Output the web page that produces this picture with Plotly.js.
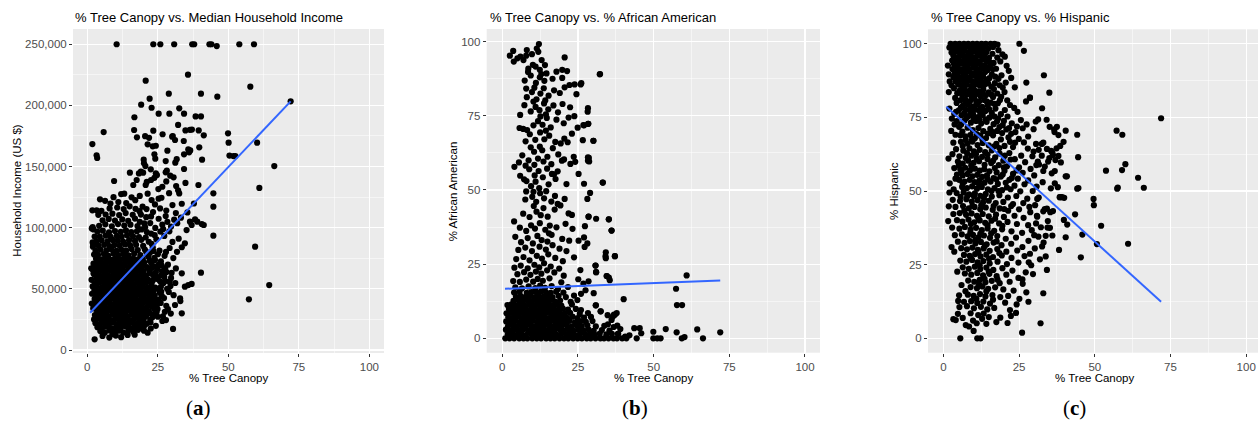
<!DOCTYPE html>
<html>
<head>
<meta charset="utf-8">
<script src="https://cdn.plot.ly/plotly-3.0.1.min.js"></script>
<style>html,body{margin:0;padding:0;background:#fff;}#chart{width:1258px;height:425px;}</style>
</head>
<body>
<div id="chart"></div>
<script>
// ---- Panel (a): % tree canopy vs median household income (US $) ----
const incomePoints = [
[10.4,250000],[23.4,250000],[25.9,250000],[30.8,250000],[37.2,250000],[37.9,250000],[43.3,250000],[44.0,250000],[45.9,248500],[53.9,250000],[59.1,250000],
[35.7,225100],[20.7,220200],[57.8,215300],[40.3,209600],[28.9,209600],[46.1,207100],[22.1,205500],[72.1,203300],[19.1,200600],[22.8,198100],[32.6,197600],[25.3,193200],[29.1,193200],[34.3,193200],[38.4,191000],[40.3,191000],[16.7,190300],[32.2,184000],[5.8,178200],[16.6,179900],[23.4,179300],[34.8,179500],[36.4,180000],[37.1,180200],[39.5,179500],[41.3,175500],[30.1,174400],[26.7,176400],[49.9,177200],[50.1,169500],[60.2,169500],[1.8,168400],[3.3,159200],[3.5,157000],[66.3,150400],[50.4,159000],[51.8,158600],[52.5,158600],[61.0,132500],[44.7,128100],[44.7,117200],[44.7,93500],[59.5,84500],[64.5,53100],[57.3,41400],[40.3,63200],[40.6,103000],[41.3,102200],[30.4,17200],[2.6,8700],
[17.6,173900],[20.5,174800],[21.9,173500],[21.4,168200],[23.2,166500],[24.3,167000],[34.2,170900],[35.8,164000],[36.5,163200],[36.1,161600],[39.7,165700],[28.4,163000],[23.8,160000],[24.1,156400],[20.0,155600],[40.7,155600],[27.8,154500],[31.2,153200],[31.7,156000],[34.3,160000],[31.1,171700],[30.3,175000],
[9.5,138200],[15.1,145000],[16.3,134900],[17.5,139000],[4.5,123200],[1.8,114200],[18.3,144400],[19.0,145800],[20.1,152700],[20.6,150400],[19.8,145000],[21.1,137400],[22.6,139000],[22.5,147700],[24.3,144500],[24.7,143000],[25.2,131600],[25.3,123700],[27.8,145300],[28.2,146600],[29.4,142500],[34.3,148000],[30.6,141200],[31.5,134100],[32.2,130600],[32.6,128000],[39.4,134900],[34.8,136600],[26.6,133500],[28.0,137800],[23.8,140800],[20.7,134900],
[19.6,117200],[22.8,122600],[21.4,127800],[24.0,119000],[26.3,124500],[28.0,114000],[23.3,112800],[30.2,118500],[31.4,112000],[25.8,115800],[29.0,128200],[33.5,119600],[35.5,112500],[37.8,119800],
[36.4,104900],[37.0,102200],[39.0,104900],[38.2,106800],
[1.6,99400],[1.9,100500],[2.2,98600],[1.9,88000],[2.1,86200],[1.5,57400],[1.8,66000],[2.2,62500],[1.7,46000],[1.4,66800],[2.0,84500],[3.9,110500],[1.6,38000],
[5.4,11500],[7.8,10200],[10.1,11800],[12.0,10500],[14.3,12300],[16.8,12500],[8.9,12900],
[4.6,15500],[6.2,14200],[7.9,16000],[9.5,14800],[11.2,15800],[12.8,14300],[14.6,16200],[16.3,15000],[18.0,16500],
[3.6,18700],[5.3,18000],[6.9,19000],[8.6,17800],[10.3,18600],[11.9,18100],[13.6,19200],[15.2,18000],[16.9,18900],[18.6,18200],[20.1,19400],
[2.9,21900],[4.5,21200],[6.1,22000],[7.8,21500],[9.4,22300],[11.1,21300],[12.7,21900],[14.4,21100],[16.0,22200],[17.7,21600],[19.3,22100],[21.0,21400],
[3.4,25300],[5.1,24600],[6.8,25200],[8.4,24500],[10.1,25500],[11.8,24700],[13.4,25100],[15.1,24400],[16.7,25600],[18.4,24800],[20.0,25200],[22.3,24600],
[2.7,28600],[4.3,27900],[6.0,28500],[7.6,27800],[9.3,28800],[10.9,28000],[12.6,28400],[14.3,27700],[15.9,28900],[17.6,28100],[19.2,28500],[20.9,27800],[23.5,28900],
[3.5,31200],[5.2,31900],[6.8,31300],[8.5,31800],[10.2,31100],[11.8,31700],[13.5,31400],[15.1,32000],[16.8,31200],[18.4,31900],[20.1,31300],[21.8,31800],[24.6,31000],
[2.8,35100],[4.4,34500],[6.1,35200],[7.7,34400],[9.4,35000],[11.0,34600],[12.7,35300],[14.3,34700],[16.0,35100],[17.7,34400],[19.3,35000],[21.0,34600],[22.9,35400],
[3.3,38400],[5.0,37800],[6.6,38500],[8.3,37700],[10.0,38300],[11.6,37900],[13.3,38600],[14.9,38000],[16.6,38300],[18.2,37800],[19.9,38600],[21.6,38100],[24.0,37600],
[2.6,41800],[4.2,41100],[5.9,41600],[7.5,41000],[9.2,41900],[10.8,41200],[12.5,41700],[14.2,41000],[15.8,41500],[17.5,41100],[19.1,41800],[20.8,41300],[22.6,41900],[25.3,41200],
[3.4,44400],[5.1,45100],[6.7,44500],[8.4,45000],[10.0,44300],[11.7,45200],[13.3,44600],[15.0,45000],[16.6,44400],[18.3,45300],[20.0,44600],[21.7,45100],[23.9,44500],
[2.5,48300],[4.1,47600],[5.8,48400],[7.4,47700],[9.1,48200],[10.7,47800],[12.4,48500],[14.1,47700],[15.7,48300],[17.4,47600],[19.0,48400],[20.7,47900],[22.4,48600],[26.2,47800],
[3.2,51600],[4.9,50900],[6.5,51500],[8.2,51000],[9.9,51700],[11.5,51100],[13.2,51400],[14.8,50800],[16.5,51600],[18.1,51000],[19.8,51700],[21.5,51200],[24.1,51000],
[2.7,54300],[4.3,55000],[6.0,54400],[7.6,54900],[9.3,54200],[10.9,55100],[12.6,54500],[14.3,54900],[15.9,54300],[17.6,55000],[19.2,54600],[20.9,55200],[22.8,54300],[27.0,54800],
[3.3,58200],[5.0,57500],[6.6,58300],[8.3,57600],[9.9,58100],[11.6,57700],[13.2,58400],[14.9,57600],[16.5,58200],[18.2,57500],[19.8,58300],[21.5,57800],[25.0,58000],
[2.6,61500],[4.2,60900],[5.9,61600],[7.5,60800],[9.2,61400],[10.9,61000],[12.5,61700],[14.2,60900],[15.8,61500],[17.5,60800],[19.1,61600],[20.8,61000],[23.3,61300],
[3.4,64200],[5.1,64900],[6.7,64300],[8.4,64800],[10.0,64100],[11.7,64900],[13.3,64400],[15.0,64800],[16.6,64200],[18.3,65000],[19.9,64500],[22.0,64900],[26.5,64300],
[2.9,68100],[4.5,67500],[6.2,68200],[7.8,67600],[9.5,68000],[11.1,67400],[12.8,68300],[14.5,67700],[16.1,68100],[17.8,67500],[19.5,68200],[21.2,67800],[24.4,68400],
[3.6,71400],[5.3,70800],[6.9,71500],[8.6,70900],[10.2,71300],[11.9,70700],[13.5,71600],[15.2,71000],[16.8,71400],[18.5,70800],[20.2,71500],[22.8,70900],
[3.1,74700],[4.8,74100],[6.4,74800],[8.1,74000],[9.7,74600],[11.4,74200],[13.0,74900],[14.7,74300],[16.3,74700],[18.0,74100],[19.7,74500],
[3.8,77800],[5.9,78500],[7.4,77200],[9.3,78900],[11.0,77600],[12.9,78300],[14.6,77400],[16.6,78800],[18.8,77500],[21.3,78200],
[2.9,81200],[4.7,82000],[6.8,81500],[8.5,82300],[10.3,81000],[12.1,81900],[13.8,81300],[15.7,82500],[17.9,81700],[20.4,82100],
[4.0,85300],[6.0,86000],[7.9,85000],[9.6,85800],[11.5,85200],[13.4,86300],[15.2,85500],[17.3,86000],[19.8,85100],
[3.2,89000],[5.1,89600],[7.2,88800],[9.0,90000],[10.8,89300],[12.7,88700],[14.8,89800],[16.9,89200],[19.1,90100],
[4.4,92800],[6.5,93600],[8.3,92500],[10.5,93300],[12.2,92600],[14.1,93900],[16.2,93000],[18.3,92400],
[3.6,96900],[5.5,97600],[7.7,96300],[9.8,97300],[11.9,96600],[13.7,97800],[15.6,96500],[17.6,97100],
[4.2,101500],[6.4,102800],[8.7,101200],[10.9,103000],[13.1,101800],[15.3,102500],[17.8,101300],[20.2,103500],
[5.4,106000],[7.6,107200],[9.8,105800],[12.4,106800],[14.5,105600],[16.9,107500],
[6.5,110800],[8.9,111500],[11.3,110300],[13.6,112000],[16.1,110500],[18.5,113500],
[3.3,114200],[7.9,115800],[10.6,116500],[12.9,115200],[15.0,117500],
[8.2,119800],[11.0,121000],[13.8,120200],[6.3,122000],[17.0,122500],
[12.0,127500],[13.1,127800],[9.3,125000],[15.7,124800],[18.6,126000],
[21.8,88500],[23.2,84000],[24.5,90500],[22.6,95200],[25.9,96800],[27.3,93300],[24.1,99800],[26.6,102500],[28.4,104800],[29.7,101000],[25.3,107300],[27.8,109500],[30.8,106600],[31.9,103700],[33.2,108200],[29.1,97000],
[22.2,79500],[23.8,75300],[25.6,81200],[27.4,77000],[29.2,83400],[26.1,72400],[28.6,69800],[30.5,75200],[31.8,80300],[33.5,84000],[34.6,87200],[35.2,98100],[32.4,91000],[30.2,88400],
[24.8,66500],[26.3,61200],[28.1,63800],[29.7,58900],[31.4,66700],[33.5,62700],[27.6,56500],[29.5,52300],[31.2,54800],[34.6,51800],[35.8,53100],[37.0,54000],
[23.6,44000],[25.7,46800],[27.2,42500],[28.9,47500],[30.6,44800],[32.9,42300],[33.0,40000],[26.0,38500],[28.0,36200],[31.1,36800],[24.9,33500],[27.5,31200],[29.6,29800],[33.5,30000],[26.6,23700],[27.9,24500],[25.0,27200],[24.3,19800],[22.5,17600],[21.4,14200],[20.1,15800],
[22.4,22500],[23.1,26700],[22.0,30300],[23.8,33300],[24.6,36000],[22.7,39700],[24.4,40700],[22.3,43000],[21.9,46800],[23.4,47500],[25.2,49600],[22.6,51500],[23.3,57000],[24.6,60000],[22.3,62800],[21.9,66200],[23.0,67200],[25.4,70000],[22.1,73000],[24.0,73600],[21.7,76300],[20.9,80200],[23.4,81000],[22.8,86800],[20.7,92000],[21.1,96500],[19.2,98600],[20.5,100400],[22.3,103800],[18.6,104800],[20.9,108600],[22.6,109200],[19.0,110700],[21.0,115200],[17.1,115400],[5.0,113800],[2.6,92800],[2.4,78100],[2.2,70600],[1.9,52000],[2.1,34000],[2.4,25000],
[26.8,27600],[28.6,33400],[26.4,44200],[28.3,50000],[26.1,51700],[29.2,55700],[25.8,56200],[27.3,59800],[24.3,63500],[27.6,66800],[29.9,63100],[26.4,69000],[25.0,78300],[27.9,80200],[23.9,93900],[26.9,98900]
];
const incomeFitCanopy = [1.0, 72.1];
const incomeFit = [30500, 203300];

// ---- Panel (b): % tree canopy vs % African American ----
const africanAmericanPoints = [
[1.0,0],[2.4,0],[3.9,0],[5.6,0],[7.0,0],[8.3,0],[9.9,0],[11.4,0],[12.8,0],[14.5,0],[15.9,0],[17.3,0],[18.9,0],[20.4,0],[21.8,0],[23.4,0],[24.9,0],[26.3,0],[27.9,0],[29.2,0],[30.8,0],[32.4,0],[33.6,0],[35.1,0],[36.7,0],[37.9,0],[39.6,0],[41.0,0],
[1.8,1.3],[3.3,1.6],[4.8,1.2],[6.3,1.5],[7.7,1.1],[9.2,1.7],[10.7,1.3],[12.2,1.5],[13.6,1.2],[15.1,1.6],[16.6,1.4],[18.1,1.2],[19.6,1.7],[21.1,1.3],[22.6,1.5],[24.2,1.1],[25.7,1.6],[27.4,1.3],[29.0,1.4],[30.6,1.2],[32.2,1.6],[34.4,1.3],[36.2,1.5],[38.3,1.5],
[1.2,2.9],[2.6,2.6],[4.1,3.0],[5.5,2.7],[7.0,3.1],[8.5,2.6],[10.0,2.9],[11.5,2.7],[12.9,3.0],[14.4,2.6],[15.9,2.9],[17.4,2.8],[18.9,3.1],[20.3,2.7],[21.9,2.9],[23.5,2.6],[25.1,3.0],[26.8,2.7],[28.5,2.9],[30.2,2.5],[32.9,2.8],[35.4,2.6],
[1.9,4.1],[3.4,4.4],[4.8,4.0],[6.3,4.3],[7.8,4.1],[9.3,4.5],[10.7,4.0],[12.2,4.3],[13.7,4.1],[15.2,4.4],[16.7,4.0],[18.2,4.3],[19.6,4.2],[21.2,4.5],[22.9,4.0],[24.6,4.3],[26.2,4.1],[28.1,4.4],[30.9,4.0],[33.7,4.2],[36.8,3.8],[38.0,4.3],
[1.3,5.7],[2.7,5.5],[4.2,5.8],[5.6,5.4],[7.1,5.7],[8.6,5.6],[10.1,5.9],[11.5,5.5],[13.0,5.7],[14.5,5.4],[16.0,5.8],[17.5,5.5],[19.0,5.7],[20.5,5.6],[22.2,5.9],[24.0,5.4],[25.7,5.7],[27.6,5.5],[29.8,5.8],
[2.0,7.1],[3.5,6.9],[4.9,7.2],[6.4,6.8],[7.9,7.1],[9.3,7.0],[10.8,7.3],[12.3,6.9],[13.8,7.1],[15.3,6.8],[16.8,7.2],[18.2,7.0],[19.8,7.1],[21.4,6.9],[23.2,7.3],[24.9,6.8],[27.0,7.0],[29.3,7.2],[34.8,7.8],[36.9,8.0],[37.8,8.5],
[1.4,8.4],[2.8,8.6],[4.3,8.3],[5.7,8.5],[7.2,8.2],[8.7,8.6],[10.2,8.4],[11.6,8.5],[13.1,8.3],[14.6,8.6],[16.1,8.4],[17.6,8.2],[19.1,8.5],[20.7,8.3],[22.4,8.6],[25.6,8.2],[28.3,8.5],
[2.2,9.9],[3.6,9.7],[5.0,10.0],[6.5,9.8],[8.0,9.6],[9.5,10.0],[10.9,9.8],[12.4,9.7],[13.9,10.0],[15.4,9.8],[16.9,9.9],[18.4,9.6],[20.0,10.0],[21.7,9.7],[24.3,9.9],[26.0,9.5],[32.5,9.1],
[1.7,11.2],[3.0,11.4],[4.4,11.1],[6.0,11.3],[7.4,11.0],[8.9,11.4],[10.4,11.2],[11.9,11.3],[13.3,11.0],[14.8,11.4],[16.4,11.1],[18.0,11.3],[19.5,11.0],[23.0,11.4],[30.9,11.1],
[3.7,12.6],[5.3,12.8],[6.8,12.5],[8.3,12.7],[9.7,12.4],[11.2,12.8],[12.7,12.6],[14.2,12.5],[15.7,12.8],[17.4,12.4],[19.1,12.7],[22.6,12.3],[24.8,12.9],[40.1,13.2],
[4.5,14.0],[6.1,14.2],[7.6,13.9],[9.0,14.1],[10.5,13.8],[12.0,14.2],[13.5,14.0],[15.0,14.1],[16.6,13.8],[18.6,14.3],[21.0,13.9],[23.7,14.4],
[3.9,15.4],[5.7,15.7],[8.1,15.3],[9.7,15.6],[11.3,15.4],[12.8,15.8],[14.4,15.5],[16.0,15.3],[17.8,15.7],[20.2,15.4],[26.0,15.0],
[4.3,17.2],[6.5,16.8],[8.7,17.5],[10.9,16.9],[12.5,17.8],[14.1,17.0],[16.3,17.6],[18.4,16.6],[21.7,17.3],[26.8,18.4],[27.5,16.2],
[3.6,19.3],[5.8,19.0],[7.9,19.8],[10.2,19.1],[11.7,20.0],[13.4,19.4],[15.6,20.2],[19.5,18.9],[28.5,19.2],[25.1,19.9],[30.2,15.2],
[5.0,21.6],[7.2,22.3],[9.3,21.4],[11.1,22.5],[12.9,21.8],[14.8,22.9],[17.2,22.2],[20.3,21.1],[31.0,22.3],[34.5,21.0],[35.2,20.5],[35.5,19.6],
[4.0,23.8],[6.1,24.5],[8.4,23.6],[10.6,24.8],[12.2,23.9],[13.8,25.3],[16.0,24.2],[18.8,23.5],[25.8,23.0],[30.8,24.5],
[4.6,26.7],[7.0,27.4],[9.0,26.3],[11.4,27.8],[13.1,26.9],[15.2,28.3],[17.5,27.1],[20.0,26.0],[23.7,27.3],[34.2,29.0],[34.1,27.7],[37.2,27.7],
[5.3,29.8],[7.6,30.6],[9.8,29.4],[12.3,30.9],[14.4,29.9],[16.6,31.4],[18.9,30.2],[21.2,29.4],[27.2,30.8],[28.1,32.0],[27.0,34.0],
[6.2,32.4],[8.4,33.8],[10.1,32.0],[11.6,34.5],[13.0,33.1],[14.9,32.6],[16.3,34.9],[19.8,33.5],[22.1,32.9],[4.3,34.2],[25.2,32.9],[15.4,35.4],
[5.8,37.3],[7.9,36.2],[9.5,38.1],[10.8,37.0],[12.4,38.8],[14.2,36.6],[15.7,38.0],[17.9,37.4],[20.9,38.6],[23.2,36.9],[27.3,37.8],[36.1,36.3],[3.9,39.4],[31.0,40.3],
[6.9,42.0],[9.0,40.9],[11.3,42.7],[12.7,41.5],[13.6,43.9],[15.0,41.0],[17.3,43.4],[19.2,44.8],[21.9,42.1],[23.0,41.6],[35.2,40.1],[28.5,41.0],[10.4,44.6],
[7.6,46.8],[9.9,47.7],[11.2,46.0],[12.5,48.9],[13.8,47.2],[16.2,46.1],[17.4,48.0],[18.3,45.3],[20.6,47.0],[28.1,47.0],[29.0,49.0],[10.3,49.4],[14.5,49.6],[7.9,49.5],
[5.9,54.8],[8.0,53.0],[9.5,51.3],[11.0,52.8],[12.2,50.6],[13.4,54.3],[15.3,51.9],[17.6,53.7],[21.2,52.0],[27.0,52.1],[33.2,52.5],[10.7,54.9],[16.4,55.4],[7.2,53.6],
[4.0,57.8],[5.5,59.3],[8.9,57.0],[10.6,58.5],[12.0,56.4],[13.6,59.6],[14.8,57.2],[16.2,58.7],[18.3,56.3],[19.7,59.9],[22.5,58.8],[25.2,55.4],[28.7,59.6],[7.7,58.2],[17.1,55.3],
[6.6,61.7],[8.7,60.0],[10.5,62.9],[11.8,60.6],[13.2,63.4],[14.9,61.2],[16.7,64.1],[18.5,62.0],[20.4,60.3],[23.6,61.2],[24.1,59.5],[28.6,60.8],[12.4,64.6],[9.4,64.4],
[7.7,66.4],[9.1,68.8],[10.9,66.9],[12.5,69.4],[13.9,67.1],[15.5,68.3],[17.5,66.2],[19.3,65.7],[20.5,67.3],[21.6,66.1],[26.6,66.8],[30.1,66.6],[8.2,70.2],[14.4,70.0],[23.0,69.0],
[5.7,70.9],[6.9,70.6],[10.3,71.8],[11.8,73.2],[13.3,72.0],[14.7,74.3],[16.0,71.1],[17.9,73.7],[20.3,72.5],[21.9,74.4],[24.9,71.0],[27.0,71.8],[28.4,72.3],[5.9,75.3],[12.6,74.8],
[7.3,78.6],[9.4,76.5],[11.0,78.0],[12.3,76.9],[13.8,79.2],[15.2,77.2],[16.9,78.5],[18.4,76.2],[19.9,79.0],[22.4,77.9],[23.8,74.9],[28.3,77.6],[10.3,79.8],[14.4,75.5],
[8.1,81.3],[9.8,83.0],[11.3,80.6],[12.6,82.5],[13.7,84.3],[15.3,81.8],[17.1,83.6],[19.0,82.7],[20.6,84.6],[24.5,82.3],[7.9,84.2],[10.6,84.5],[14.2,80.2],
[7.4,86.9],[9.4,88.6],[11.1,86.1],[12.4,88.0],[13.9,86.8],[14.6,89.3],[16.6,87.5],[19.8,87.8],[22.2,85.4],[23.9,85.6],[25.9,85.6],[32.2,89.0],[8.5,89.8],[12.9,89.1],[21.4,90.1],
[3.8,93.3],[7.0,93.8],[8.6,90.9],[10.1,92.2],[12.4,90.5],[13.0,93.8],[14.1,92.1],[17.9,89.9],[19.8,90.5],[20.6,94.7],[11.0,91.6],
[2.5,95.3],[3.6,96.9],[7.9,95.3],[8.1,97.2],[9.8,95.8],[11.4,97.7],[11.9,96.6],[12.1,99.2],[6.0,95.0],[5.0,94.4],
[43.6,3.4],[44.4,0],[45.4,3.4],[45.9,1.7],[49.9,2.2],[49.9,0],[51.2,0],[52.3,0],[54.0,3.1],[57.6,2.0],[57.4,16.7],[57.7,11.2],[59.4,11.2],[59.3,0],[60.2,0.4],[60.9,21.2],[64.4,3.0],[66.3,0],[72.0,2.0],
[32.3,89.1],[33.2,52.5],[35.2,40.1],[36.1,36.3],[37.2,27.7],[34.2,27.0],[30.8,24.5],[31.0,22.3],[34.5,21.0],[30.9,11.1],[32.5,9.1],[37.2,7.9],[30.1,66.6],[28.5,41.0],[28.3,61.0],[28.3,59.9],[28.2,76.4],[28.4,72.3],[26.8,71.9],[26.1,86.0],
[34.9,4.7],[36.5,7.3],[36.1,6.2],[39.0,3.1],[40.6,0.6],[38.2,1.5],[42.0,1.0]
];
const africanAmericanFitCanopy = [0.9, 72.0];
const africanAmericanFit = [16.7, 19.5];

// ---- Panel (c): % tree canopy vs % Hispanic ----
const hispanicPoints = [
[2.4,100],[3.9,100],[5.3,100],[6.8,100],[8.2,100],[9.7,100],[11.1,100],[12.6,100],[14.0,100],[15.6,100],[16.9,100],[25.1,100],
[2.0,98.7],[3.2,98.4],[4.6,98.8],[6.1,98.5],[7.5,98.9],[9.0,98.4],[10.4,98.7],[11.9,98.5],[13.3,98.8],[14.8,98.3],[26.6,97.6],
[2.7,97.0],[4.0,97.4],[5.4,97.1],[6.9,97.5],[8.3,97.0],[9.8,97.3],[11.2,96.9],[12.7,97.4],[14.2,97.1],[16.2,96.6],[19.5,96.4],
[3.3,95.9],[4.7,95.5],[6.2,96.0],[7.6,95.6],[9.1,95.9],[10.5,95.4],[12.0,96.0],[13.5,95.6],[15.1,95.2],[20.3,95.6],
[2.9,94.3],[4.1,94.6],[5.5,94.2],[7.0,94.7],[8.4,94.3],[9.9,94.5],[11.3,94.1],[12.8,94.6],[14.4,94.0],[16.6,93.5],[18.8,94.0],
[3.5,93.1],[4.8,92.8],[6.3,93.2],[7.7,92.9],[9.2,93.3],[10.6,92.8],[12.1,93.1],[13.6,92.7],[15.3,92.2],[20.9,92.5],
[3.0,91.4],[4.3,91.8],[5.7,91.3],[7.1,91.7],[8.5,91.5],[10.0,91.9],[11.4,91.3],[12.9,91.6],[14.6,91.1],[17.4,91.5],[21.6,90.8],
[3.8,90.0],[5.1,90.4],[6.5,90.1],[7.9,90.5],[9.3,90.0],[10.8,90.3],[12.2,89.9],[13.8,90.4],[16.0,89.6],[19.2,89.3],
[3.3,88.7],[4.6,89.0],[6.0,88.6],[7.4,88.9],[8.8,88.5],[10.2,89.1],[11.7,88.6],[13.1,88.9],[15.2,88.3],[18.2,88.1],[22.4,88.4],
[4.1,87.3],[5.5,87.6],[6.9,87.2],[8.3,87.7],[9.7,87.1],[11.1,87.5],[12.5,87.2],[14.2,87.8],[17.0,86.6],[20.6,86.8],[27.4,86.8],
[2.7,85.9],[4.9,86.2],[6.3,85.7],[7.8,86.1],[9.2,85.6],[10.6,86.3],[12.0,85.8],[13.5,86.0],[15.9,85.4],[19.6,85.1],[23.6,85.2],
[5.5,84.3],[7.0,84.6],[8.6,84.0],[10.1,84.5],[11.6,83.8],[13.2,84.4],[15.0,83.5],[17.8,83.1],[1.8,83.6],
[6.2,82.6],[7.7,82.8],[9.3,82.2],[10.9,82.9],[12.4,82.1],[14.1,82.6],[16.4,81.9],[19.1,82.0],[21.1,80.8],[28.6,81.7],
[5.7,80.9],[7.2,81.1],[8.8,80.5],[10.3,81.3],[11.8,80.4],[13.5,80.9],[15.6,80.0],[18.0,79.8],[22.0,79.2],[27.3,80.4],
[6.5,79.1],[8.0,79.4],[9.6,78.7],[11.1,79.3],[12.8,78.6],[14.6,79.0],[17.2,78.0],[20.3,77.5],[23.4,78.2],[32.6,78.1],
[5.1,77.4],[7.3,77.6],[8.9,76.9],[10.5,77.6],[12.1,76.8],[13.9,77.2],[16.0,76.5],[19.0,76.1],[24.5,76.9],[2.0,78.0],
[6.0,75.7],[8.2,75.4],[9.8,76.0],[11.4,75.1],[13.0,75.8],[15.2,74.9],[18.1,74.6],[21.2,75.3],[25.6,74.1],[31.3,74.3],[34.1,74.2],
[4.4,73.7],[7.0,73.9],[9.1,73.2],[10.8,73.8],[12.5,72.9],[14.3,73.5],[16.6,72.7],[19.6,72.4],[22.6,73.0],[27.5,72.6],[29.8,71.0],[35.1,71.8],[30.5,73.6],
[5.2,71.8],[6.3,70.2],[8.0,71.5],[9.7,70.7],[11.6,71.4],[13.2,70.3],[15.5,71.1],[17.8,70.4],[20.8,70.9],[23.8,70.0],[26.2,71.3],[28.0,68.5],[36.7,70.0],[38.0,69.0],
[4.0,69.1],[7.2,68.6],[8.9,69.0],[10.4,67.9],[12.2,68.8],[14.1,68.0],[16.4,68.9],[19.0,67.5],[21.5,68.2],[24.9,67.7],[26.6,66.5],[30.6,66.0],[33.0,66.4],
[3.3,66.4],[5.8,66.7],[8.0,66.1],[9.6,66.8],[11.3,65.6],[13.0,66.3],[15.0,65.5],[17.5,66.0],[20.2,65.3],[23.0,64.9],[27.9,64.4],[34.2,64.3],[36.0,63.0],
[4.2,64.2],[6.6,63.7],[8.6,64.5],[10.1,63.5],[12.0,64.0],[13.8,63.2],[16.0,63.8],[18.6,62.7],[21.8,62.9],[25.7,62.0],[29.4,61.8],[32.5,62.0],[35.0,61.2],[37.0,60.5],
[3.0,62.5],[5.3,61.8],[7.4,61.2],[9.2,62.0],[11.0,61.0],[12.8,61.6],[14.6,60.8],[17.1,61.4],[19.8,60.3],[23.6,60.8],[27.0,59.8],[31.2,60.0],[38.8,59.7],
[1.7,61.0],[4.8,60.0],[6.4,59.3],[8.2,60.3],[10.0,59.6],[11.8,60.1],[13.6,58.9],[15.8,59.5],[18.3,58.8],[21.0,58.4],[25.0,58.0],[28.8,57.5],[33.5,58.3],
[3.6,57.8],[5.6,57.4],[7.2,57.9],[8.8,57.0],[10.4,57.6],[12.0,56.9],[13.5,57.4],[15.2,56.7],[17.6,56.3],[20.2,56.9],[23.0,55.8],[26.2,56.2],[30.0,55.3],[36.8,56.8],[40.8,55.0],
[4.5,55.6],[6.4,55.3],[8.0,55.8],[9.6,55.0],[11.2,55.5],[12.8,54.8],[14.4,55.3],[16.6,54.4],[19.0,54.9],[21.8,53.8],[24.6,54.2],[28.0,53.6],[32.8,53.0],
[5.2,53.8],[7.0,53.2],[8.7,53.8],[10.3,53.0],[11.9,53.5],[13.6,52.8],[15.6,53.2],[18.0,52.4],[20.6,52.8],[23.5,51.8],[26.8,52.3],[30.8,51.5],[35.5,50.9],
[2.1,52.6],[3.4,50.6],[6.2,51.4],[7.8,51.0],[9.5,51.6],[11.1,50.8],[12.7,51.4],[14.7,50.6],[16.9,51.0],[19.4,50.3],[22.2,50.6],[25.4,49.9],[29.5,50.0],
[2.0,49.5],[4.4,49.3],[6.7,49.6],[8.5,48.9],[10.4,49.2],[12.2,48.4],[14.0,49.0],[16.0,48.1],[18.5,48.6],[21.3,47.8],[24.1,48.3],[27.7,47.4],[31.5,47.8],[38.6,47.9],[39.9,47.7],
[3.1,47.0],[5.5,46.6],[7.6,47.2],[9.4,46.4],[11.3,46.9],[13.1,46.1],[15.0,46.7],[17.3,45.9],[19.8,46.3],[23.0,45.6],[26.4,45.9],[30.3,45.2],[34.2,44.0],
[1.8,44.8],[4.0,44.6],[6.5,44.9],[8.4,44.1],[10.3,44.6],[12.2,43.8],[14.0,44.4],[16.3,43.6],[18.6,44.1],[21.4,43.3],[25.0,43.8],[28.7,42.8],[33.0,43.1],[35.3,42.8],
[3.3,42.2],[5.4,42.5],[7.5,41.9],[9.3,42.4],[11.1,41.6],[13.0,42.2],[15.0,41.4],[17.4,42.0],[20.0,41.2],[23.5,41.6],[26.5,40.9],[31.0,41.3],[34.5,39.8],
[1.6,39.8],[4.5,40.1],[6.3,39.6],[8.3,40.3],[10.2,39.4],[12.0,40.0],[13.8,39.2],[15.9,39.9],[18.4,39.0],[21.2,39.5],[24.3,38.8],[28.0,38.4],[32.2,37.7],[35.2,37.5],
[2.9,37.6],[5.3,37.2],[7.1,37.8],[9.0,36.9],[10.8,37.5],[12.7,36.7],[14.6,37.3],[16.8,36.5],[19.4,37.0],[22.5,36.3],[26.0,35.8],[30.0,35.0],[33.8,34.8],
[3.8,35.0],[6.1,35.3],[8.0,34.6],[9.8,35.1],[11.6,34.3],[13.4,34.9],[15.4,34.1],[17.8,34.7],[20.6,33.8],[24.0,34.2],[28.1,33.1],[31.4,34.5],
[4.8,32.8],[7.0,32.4],[8.8,33.0],[10.6,32.2],[12.4,32.7],[14.3,31.9],[16.6,32.5],[19.2,31.6],[22.4,32.1],[26.1,31.0],[2.7,31.0],[33.1,32.5],
[5.9,30.6],[7.8,30.2],[9.6,30.8],[11.4,30.0],[13.3,30.5],[15.3,29.7],[17.8,30.3],[20.8,29.4],[24.4,29.8],[28.6,28.7],[3.6,29.4],
[6.8,28.3],[8.7,28.0],[10.5,28.6],[12.3,27.8],[14.2,28.4],[16.4,27.6],[19.3,28.1],[22.5,27.3],[26.8,27.9],[31.9,26.8],
[5.6,26.4],[7.6,26.0],[9.5,26.6],[11.3,25.8],[13.2,26.2],[15.3,25.4],[17.9,26.0],[21.0,25.2],[24.8,25.7],[29.0,24.8],
[6.4,24.1],[8.4,23.6],[10.4,24.3],[12.2,23.5],[14.2,24.0],[16.5,23.2],[19.5,23.8],[22.8,23.0],[27.2,22.4],[4.6,22.6],
[7.1,22.0],[9.2,21.6],[11.2,22.2],[13.1,21.4],[15.2,21.9],[17.6,21.1],[20.8,21.6],[24.8,20.5],
[8.2,19.6],[10.2,19.2],[12.0,19.8],[13.9,19.0],[16.0,19.5],[18.6,18.7],[21.9,19.2],[6.0,18.1],[26.2,18.5],
[9.0,17.4],[11.1,17.0],[12.9,17.6],[14.8,16.8],[17.1,17.3],[19.8,16.6],[23.2,16.2],[7.3,16.0],[27.4,15.6],
[5.2,14.6],[8.1,14.8],[10.0,14.4],[12.1,15.0],[13.9,14.2],[16.2,14.7],[18.8,14.0],[21.4,14.4],[25.1,13.4],
[4.9,12.7],[6.8,12.4],[9.2,12.6],[11.2,12.0],[13.2,12.5],[15.4,11.8],[20.4,12.1],[24.2,11.5],
[5.3,10.6],[7.8,10.9],[10.1,10.2],[12.4,10.7],[14.5,9.8],[16.8,10.3],[22.0,9.6],
[4.8,8.3],[9.0,8.5],[11.5,7.9],[13.3,8.4],[15.0,7.2],[18.8,7.0],[22.3,7.6],[24.0,8.6],[12.8,6.6],
[3.3,6.5],[4.1,6.2],[6.4,6.9],[9.8,6.0],[11.0,5.1],[14.2,4.9],[17.5,5.5],[21.2,5.2],[7.4,4.5],[10.0,2.5],[5.6,0],[11.2,0],[12.3,0],[8.5,4.0],
[35.0,83.4],[33.2,89.3],[28.6,81.7],[37.4,64.5],[38.6,65.3],[38.0,61.9],[35.6,63.6],[36.2,62.2],[34.6,60.0],[36.6,70.9],[37.5,71.8],[32.5,66.0],[31.5,64.0],[29.8,63.4],[30.7,58.8],[33.0,56.8],[31.6,59.0],[35.8,56.0],[36.8,52.6],[37.8,51.3],[31.0,47.3],[28.4,44.6],[33.5,43.9],[36.2,43.2],[34.4,37.6],[36.0,34.9],[32.6,31.2],[29.2,36.7],[30.6,39.0],[30.9,41.6],[33.8,27.8],[30.2,30.5],[28.2,25.8],[26.1,20.0],[29.6,21.8],
[71.9,74.7],[57.2,70.5],[59.1,69.1],[60.1,59.1],[59.0,57.1],[53.7,56.9],[64.3,54.5],[66.2,51.1],[57.4,50.8],[57.6,51.2],[49.6,47.3],[49.7,45.2],[52.1,38.2],[50.7,32.0],[61.0,32.1],[45.9,35.2],[45.4,27.5],[43.5,42.1],[44.2,69.1],[44.5,61.5],[44.2,50.8],[44.6,51.0],[40.4,70.5],[39.7,66.7],[40.4,55.0],[39.8,40.2],[40.9,38.6],[40.4,34.3],[38.2,30.0],[39.2,47.9],[38.4,47.9],[34.2,23.2],[33.0,15.3],[32.1,5.1],[26.0,1.9],[28.1,12.4],
[3.5,84.9],[4.6,83.2],[3.9,81.6],[4.4,79.9],[3.6,76.2],[2.8,74.6],[3.7,72.6],[2.6,70.4],[5.9,72.6],[7.6,74.8],[10.0,74.5],[11.9,74.2],[13.9,74.3],[16.9,75.3],[17.7,73.6],[18.5,71.7],[16.4,70.0],[14.7,69.5],[12.9,67.5],[11.0,69.3],[9.4,67.3],[7.4,67.3],[5.6,68.9],[6.4,65.3],[7.8,62.9],[10.8,62.6],[14.6,62.4],[16.8,65.2],[18.5,64.6],[19.4,69.7],[20.3,62.0],[22.2,60.7],[22.0,66.7],[20.0,58.0],[17.0,57.8],[16.4,60.2],[9.2,58.7],[5.1,58.7],[6.0,56.7],[4.0,54.2],[6.4,52.6],[11.8,52.2],[14.6,54.0],[17.5,54.0],[18.2,50.0],[21.0,51.2],[19.6,55.6],[22.6,54.4],[24.2,57.0],[15.9,50.0],[10.1,48.2],[7.9,48.2],[5.7,48.0],[13.4,47.6],[16.6,44.9],[12.5,45.1],[9.6,45.0],[6.9,43.3],[11.6,40.7],[9.1,38.8],[14.6,38.4],[17.1,40.6],[20.1,43.9],[22.4,44.9],[19.5,38.2],[15.8,35.6],[12.2,35.5],[8.9,35.8],[10.6,33.4],[13.7,31.4],[17.6,32.9],[18.5,28.9],[15.1,27.0],[11.6,29.2],[9.1,27.2],[12.0,24.8],[15.0,22.6],[13.6,20.2],[11.8,18.2],[14.2,15.9],[17.9,19.9],[16.4,13.1],[10.9,13.4],
[6.8,83.4],[9.4,83.5],[12.8,83.3],[15.9,82.7],[14.3,80.4],[10.9,79.9],[7.3,79.9],[5.8,78.3],[9.0,78.0],[12.3,77.9],[15.1,77.8],[16.8,79.6],[18.7,80.9],[20.2,83.6],[18.6,85.9],[16.7,84.6],[14.8,86.5],[17.1,88.8],[16.3,91.4],[15.3,93.7],[17.8,95.3],[18.2,97.8],[16.4,98.9],[13.4,99.6],[17.9,99.7],[1.5,92.6],[1.8,89.6],[2.1,87.2],[4.2,76.9],[6.9,76.4],[20.0,73.8],[21.7,71.4],[22.4,69.4],[23.7,66.4],[24.3,71.9]
];
const hispanicFitCanopy = [1.0, 71.9];
const hispanicFit = [78.6, 12.4];

// ---- text ----
const panelTitles = ['% Tree Canopy vs. Median Household Income', '% Tree Canopy vs. % African American', '% Tree Canopy vs. % Hispanic'];
const yTitles = ['Household Income (US $)', '% African American', '% Hispanic'];
const xTitle = '% Tree Canopy';
const captions = ['(<b>a</b>)', '(<b>b</b>)', '(<b>c</b>)'];

const W = 1258, H = 425;
const px = v => v / W, py = v => 1 - v / H;

function scatter(points, xa, ya) {
  return {type: 'scatter', mode: 'markers', x: points.map(p => p[0]), y: points.map(p => p[1]),
    xaxis: xa, yaxis: ya, marker: {color: '#000000', size: 6.2, line: {width: 0}}, hoverinfo: 'skip'};
}
function fit(xs, ys, xa, ya) {
  return {type: 'scatter', mode: 'lines', x: xs, y: ys, xaxis: xa, yaxis: ya,
    line: {color: '#3366FF', width: 2}, hoverinfo: 'skip'};
}

const data = [
  scatter(incomePoints, 'x', 'y'), fit(incomeFitCanopy, incomeFit, 'x', 'y'),
  scatter(africanAmericanPoints, 'x2', 'y2'), fit(africanAmericanFitCanopy, africanAmericanFit, 'x2', 'y2'),
  scatter(hispanicPoints, 'x3', 'y3'), fit(hispanicFitCanopy, hispanicFit, 'x3', 'y3')
];

const tickFont = {family: 'Liberation Sans, Arial, sans-serif', size: 11.5, color: '#4D4D4D'};
function axis(extra) {
  return Object.assign({
    showgrid: true, gridcolor: '#FFFFFF', gridwidth: 1.1, zeroline: false, showline: false,
    ticks: 'outside', ticklen: 3, tickwidth: 1, tickcolor: '#333333', tickfont: tickFont,
    fixedrange: true
  }, extra);
}
const xMinor = {dtick: 12.5, tick0: 0, showgrid: true, gridcolor: '#FFFFFF', gridwidth: 0.5, ticks: ''};

const layout = {
  width: W, height: H, margin: {l: 0, r: 0, t: 0, b: 0, pad: 0},
  paper_bgcolor: '#FFFFFF', plot_bgcolor: '#EBEBEB', showlegend: false,
  font: {family: 'Liberation Sans, Arial, sans-serif', color: '#000000'},
  xaxis: axis({domain: [px(73), px(384)], range: [-5.07, 105.2], tick0: 0, dtick: 25, anchor: 'y', minor: xMinor}),
  yaxis: axis({domain: [py(353), py(29)], range: [-2450, 262470], tick0: 0, dtick: 50000, tickformat: ',d', anchor: 'x',
    minor: {dtick: 25000, tick0: 0, showgrid: true, gridcolor: '#FFFFFF', gridwidth: 0.5, ticks: ''}}),
  xaxis2: axis({domain: [px(486.7), px(820)], range: [-5.15, 104.96], tick0: 0, dtick: 25, anchor: 'y2', minor: xMinor}),
  yaxis2: axis({domain: [py(352.7), py(29)], range: [-4.86, 104.28], tick0: 0, dtick: 25, anchor: 'x2',
    minor: {dtick: 12.5, tick0: 0, showgrid: true, gridcolor: '#FFFFFF', gridwidth: 0.5, ticks: ''}}),
  xaxis3: axis({domain: [px(928), 1], range: [-5.07, 103.9], tick0: 0, dtick: 25, anchor: 'y3', minor: xMinor}),
  yaxis3: axis({domain: [py(352.7), py(29.3)], range: [-4.89, 104.9], tick0: 0, dtick: 25, anchor: 'x3',
    minor: {dtick: 12.5, tick0: 0, showgrid: true, gridcolor: '#FFFFFF', gridwidth: 0.5, ticks: ''}}),
  annotations: []
};

const titleX = [73, 488, 928.5];
const xTitleX = [228.7, 653.5, 1094.7];
const yTitleX = [16.7, 453.3, 894];
const captionX = [198, 635, 1074.7];
titleX.forEach((x, i) => {
  layout.annotations.push({xref: 'paper', yref: 'paper', x: px(x), y: py(17), xanchor: 'left', yanchor: 'middle',
    text: panelTitles[i], showarrow: false, font: {size: 13, color: '#000000'}});
  layout.annotations.push({xref: 'paper', yref: 'paper', x: px(xTitleX[i]), y: py(377.7), xanchor: 'center', yanchor: 'middle',
    text: xTitle, showarrow: false, font: {size: 11.5, color: '#000000'}});
  layout.annotations.push({xref: 'paper', yref: 'paper', x: px(yTitleX[i]), y: py(191), xanchor: 'center', yanchor: 'middle',
    text: yTitles[i], textangle: -90, showarrow: false, font: {size: 11.5, color: '#000000'}});
  layout.annotations.push({xref: 'paper', yref: 'paper', x: px(captionX[i]), y: py(408), xanchor: 'center', yanchor: 'middle',
    text: captions[i], showarrow: false, font: {family: 'Liberation Serif, DejaVu Serif, serif', size: 21, color: '#000000'}});
});

Plotly.newPlot('chart', data, layout, {staticPlot: true, displayModeBar: false});
</script>
</body>
</html>
